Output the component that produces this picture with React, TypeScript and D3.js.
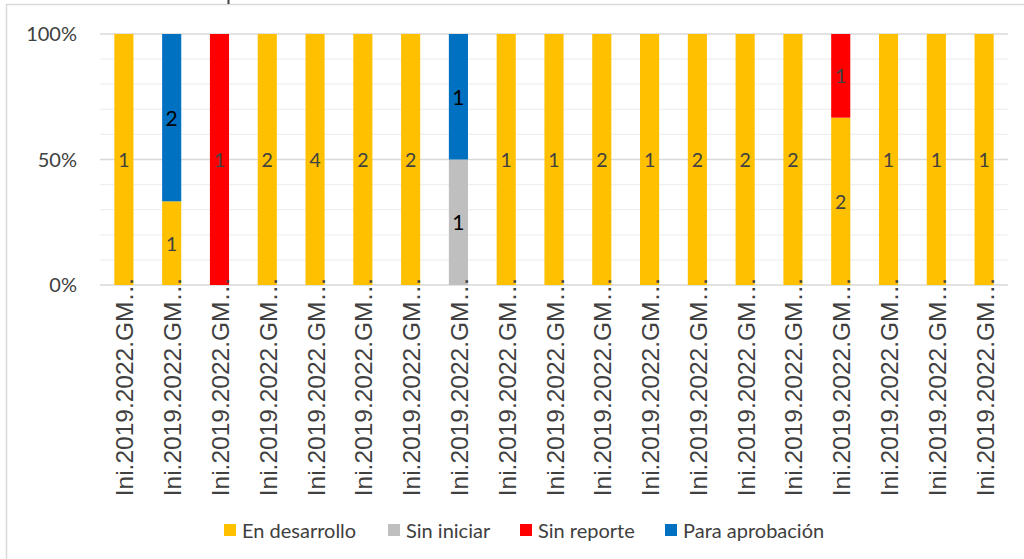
import React from 'react';
import * as d3 from 'd3';

// Chart data
const categories = Array.from({ length: 19 }, (_, i) => `cat${i + 1}`);
const categoryLabel = 'Ini.2019.2022.GM…';

const seriesNames = ['En desarrollo', 'Sin iniciar', 'Sin reporte', 'Para aprobación'];
const seriesColors = ['#FFC000', '#BFBFBF', '#FF0000', '#0070C0'];
const labelColors = ['#404040', '#000000', '#404040', '#000000'];
const labelSizes = [19.5, 21, 20, 21];

const enDesarrollo = [1, 1, 0, 2, 4, 2, 2, 0, 1, 1, 2, 1, 2, 2, 2, 2, 1, 1, 1];
const sinIniciar = [0, 0, 0, 0, 0, 0, 0, 1, 0, 0, 0, 0, 0, 0, 0, 0, 0, 0, 0];
const sinReporte = [0, 0, 1, 0, 0, 0, 0, 0, 0, 0, 0, 0, 0, 0, 0, 1, 0, 0, 0];
const paraAprobacion = [0, 2, 0, 0, 0, 0, 0, 1, 0, 0, 0, 0, 0, 0, 0, 0, 0, 0, 0];

const yTicks = [0, 0.5, 1];
const yMinor = [0.1, 0.2, 0.3, 0.4, 0.6, 0.7, 0.8, 0.9];

const W = 1024;
const H = 559;
const plot = { left: 100, right: 1008, top: 34, bottom: 285 };

const App: React.FC = () => {
  const series = [enDesarrollo, sinIniciar, sinReporte, paraAprobacion];

  const rows = categories.map((c, i) => {
    const row: Record<string, any> = { cat: c };
    const total = d3.sum(series, (s) => s[i]);
    seriesNames.forEach((n, k) => (row[n] = total ? series[k][i] / total : 0));
    return row;
  });

  const stacked = d3.stack<any>().keys(seriesNames)(rows);

  const x = d3.scaleBand().domain(categories).range([plot.left, plot.right]).paddingInner(0.6).paddingOuter(0.3);
  const y = d3.scaleLinear().domain([0, 1]).range([plot.bottom, plot.top]);

  const legendX = [224, 388, 520, 665];

  return (
    <svg width={W} height={H} style={{ position: 'absolute', left: 0, top: 0, background: '#fff' }}>
      {/* chart frame */}
      <rect x={6.5} y={4.5} width={1100} height={700} fill="none" stroke="#d9d9d9" strokeWidth={1.5} />
      <line x1={228.5} x2={228.5} y1={0} y2={4} stroke="#404040" strokeWidth={2} />

      {/* gridlines */}
      {yMinor.map((t) => (
        <line key={'m' + t} x1={plot.left} x2={plot.right} y1={y(t)} y2={y(t)} stroke="#efefef" strokeWidth={1.2} />
      ))}
      {yTicks.map((t) => (
        <line key={'g' + t} x1={plot.left} x2={plot.right} y1={y(t)} y2={y(t)} stroke="#d9d9d9" strokeWidth={1.5} />
      ))}

      {/* y tick labels */}
      {yTicks.map((t) => (
        <text
          key={'t' + t}
          x={77}
          y={y(t)}
          dy="0.35em"
          textAnchor="end"
          fontFamily="Lato, 'Open Sans', sans-serif"
          fontSize={20}
          fill="#404040"
        >
          {d3.format('.0%')(t)}
        </text>
      ))}

      {/* bars */}
      {stacked.map((s, k) => (
        <g key={s.key} fill={seriesColors[k]}>
          {s.map((d, i) =>
            d[1] - d[0] > 0 ? (
              <rect key={i} x={x(categories[i])} width={x.bandwidth()} y={y(d[1])} height={y(d[0]) - y(d[1])} />
            ) : null
          )}
        </g>
      ))}

      {/* data labels */}
      {stacked.map((s, k) => (
        <g key={'l' + s.key}>
          {s.map((d, i) =>
            d[1] - d[0] > 0 ? (
              <text
                key={i}
                x={(x(categories[i]) as number) + x.bandwidth() / 2}
                y={y((d[0] + d[1]) / 2)}
                dy="0.38em"
                textAnchor="middle"
                fontFamily="Lato, 'Open Sans', sans-serif"
                fontSize={labelSizes[k]}
                fill={labelColors[k]}
              >
                {series[k][i]}
              </text>
            ) : null
          )}
        </g>
      ))}

      {/* category labels */}
      {categories.map((c) => {
        const cx = (x(c) as number) + x.bandwidth() / 2;
        return (
          <text
            key={'c' + c}
            transform={`translate(${cx + 9.5},${plot.bottom - 8}) rotate(-90)`}
            textAnchor="end"
            fontFamily="'Liberation Sans', Arial, sans-serif"
            fontSize={24.5}
            fill="#404040"
          >
            {categoryLabel}
          </text>
        );
      })}

      {/* legend */}
      {seriesNames.map((n, k) => (
        <g key={'lg' + n} transform={`translate(${legendX[k]},0)`}>
          <rect x={0} y={524} width={12} height={12} fill={seriesColors[k]} />
          <text x={18} y={537.5} fontFamily="Lato, 'Open Sans', sans-serif" fontSize={20} fill="#404040">
            {n}
          </text>
        </g>
      ))}
    </svg>
  );
};

export default App;
